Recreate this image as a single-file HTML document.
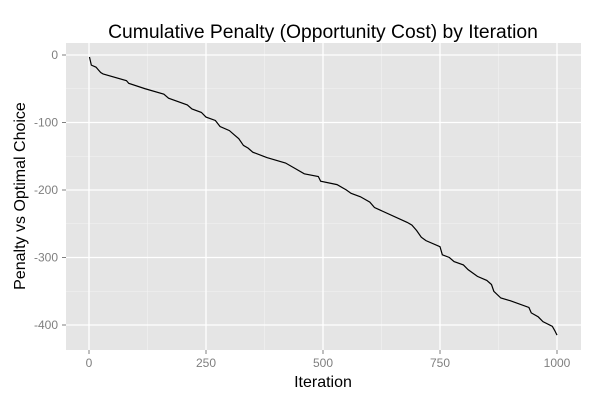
<!DOCTYPE html>
<html><head><meta charset="utf-8"><style>
body{margin:0;background:#fff;}
svg{display:block;font-family:"Liberation Sans",sans-serif;}
</style></head><body>
<svg id="chart" width="600" height="400">
<rect x="66" y="43" width="515" height="307" fill="#e5e5e5"/>
<g id="grid"></g>
<path id="series" fill="none" stroke="#000" stroke-width="1.2"/>
<g id="axes"></g>
<text x="323" y="38" text-anchor="middle" font-size="19.3">Cumulative Penalty (Opportunity Cost) by Iteration</text>
<text x="323" y="387" text-anchor="middle" font-size="16">Iteration</text>
<text transform="translate(25,196) rotate(-90)" text-anchor="middle" font-size="16">Penalty vs Optimal Choice</text>
</svg>
<script>
const iterations=[1,5,15,20,25,30,80,85,120,160,170,210,220,240,250,270,280,300,310,320,330,340,350,380,420,440,460,490,495,530,550,560,580,600,610,680,690,700,710,720,750,755,770,780,800,810,830,850,860,865,880,900,940,945,960,970,990,995,1000];
const penalties=[-3,-15,-18,-22,-26,-28,-38,-42,-50,-58,-64,-74,-80,-85,-92,-97,-106,-112,-118,-124,-134,-138,-144,-152,-160,-168,-176,-180,-187,-192,-200,-205,-210,-218,-226,-248,-252,-260,-270,-275,-284,-296,-300,-306,-311,-318,-328,-334,-340,-350,-360,-364,-374,-382,-388,-395,-402,-408,-415];
const xTicks=[0,250,500,750,1000];
const yTicks=[0,-100,-200,-300,-400];
const xMinor=[125,375,625,875];
const yMinor=[-50,-150,-250,-350];
const NS="http://www.w3.org/2000/svg";
const X=v=>89+v*0.468, Y=v=>55-v*0.675;
const grid=document.getElementById('grid'), axes=document.getElementById('axes');
function ln(p,x1,y1,x2,y2,c,w){const l=document.createElementNS(NS,'line');l.setAttribute('x1',x1);l.setAttribute('y1',y1);l.setAttribute('x2',x2);l.setAttribute('y2',y2);l.setAttribute('stroke',c);l.setAttribute('stroke-width',w);p.appendChild(l);return l;}
function tx(p,x,y,s,a){const t=document.createElementNS(NS,'text');t.setAttribute('x',x);t.setAttribute('y',y);t.setAttribute('text-anchor',a);t.setAttribute('font-size',12);t.setAttribute('fill','#7f7f7f');t.textContent=s;p.appendChild(t);return t;}
xMinor.forEach(v=>{const l=ln(grid,X(v),43,X(v),350,'#f2f2f2',0.6);

});
yMinor.forEach(v=>{const l=ln(grid,66,Y(v),581,Y(v),'#f2f2f2',0.6);

});
xTicks.forEach(v=>{const l=ln(grid,X(v),43,X(v),350,'#fff',1.3);


ln(axes,X(v),350,X(v),354,'#7f7f7f',1);
const t=tx(axes,X(v),367,v,'middle');

});
yTicks.forEach(v=>{const l=ln(grid,66,Y(v),581,Y(v),'#fff',1.3);


ln(axes,62,Y(v),66,Y(v),'#7f7f7f',1);
const t=tx(axes,58,Y(v)+4,v,'end');

});
let d='M'+X(iterations[0])+','+Y(penalties[0]);
for(let i=1;i<iterations.length;i++){d+=' L'+X(iterations[i])+','+Y(penalties[i]);}
document.getElementById('series').setAttribute('d',d);
</script>
</body></html>
